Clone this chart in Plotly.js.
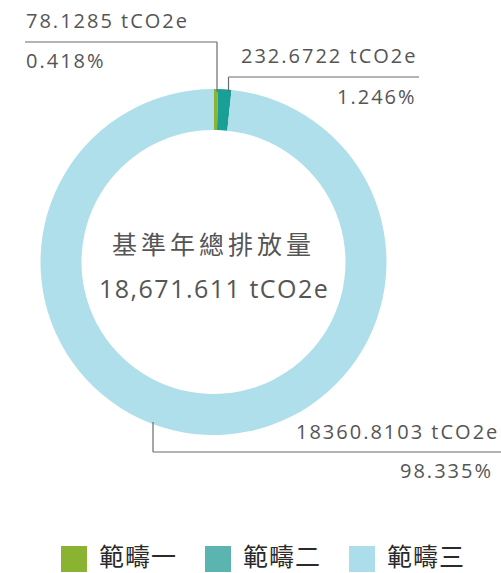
<!DOCTYPE html>
<html>
<head>
<meta charset="utf-8">
<script src="https://cdn.plot.ly/plotly-3.0.1.min.js"></script>
<style>html,body{margin:0;padding:0;background:#fff;}#chart{width:501px;height:573px;}</style>
</head>
<body>
<div id="chart"></div>
<script>
// ---- data ----
const categories = ["範疇一", "範疇二", "範疇三"];
const emissions = [78.1285, 232.6722, 18360.8103];
const valueLabels = ["78.1285 tCO2e", "232.6722 tCO2e", "18360.8103 tCO2e"];
const percentLabels = ["0.418%", "1.246%", "98.335%"];
const centerTitle = "基準年總排放量";
const centerTotal = "18,671.611 tCO2e";
const sliceColors = ["#8ab533", "#18a096", "#afdfea"];
const legendColors = ["#8ab332", "#5bb4b0", "#acddea"];

const W = 501, H = 573;
const px = x => x / W;
const py = y => 1 - y / H;

// donut geometry (pixels)
const cx = 213.5, cy = 262, R = 173;

const NUM_FONT = "'Open Sans', 'Noto Sans', sans-serif";
const CJK_FONT = "'Noto Sans CJK TC', 'Noto Sans', sans-serif";
const sp = (t, s) => `<span style="letter-spacing:${s}px">${t}</span>`;

const trace = {
  type: "pie",
  labels: categories,
  values: emissions,
  marker: {colors: sliceColors, line: {width: 0}},
  hole: 0.763,
  sort: false,
  direction: "clockwise",
  rotation: 0,
  textinfo: "none",
  hoverinfo: "label+value+percent",
  showlegend: false,
  domain: {x: [px(cx - R), px(cx + R)], y: [py(cy + R), py(cy - R)]}
};

const lineStyle = {color: "#6b6b6b", width: 1.2};
const shapes = [
  // scope 1 leader
  {type: "line", xref: "paper", yref: "paper", x0: px(217), y0: py(92), x1: px(217), y1: py(42), line: lineStyle},
  {type: "line", xref: "paper", yref: "paper", x0: px(217), y0: py(42), x1: px(25), y1: py(42), line: lineStyle},
  // scope 2 leader
  {type: "line", xref: "paper", yref: "paper", x0: px(228.5), y0: py(92), x1: px(228.5), y1: py(77), line: lineStyle},
  {type: "line", xref: "paper", yref: "paper", x0: px(228.5), y0: py(77), x1: px(419), y1: py(77), line: lineStyle},
  // scope 3 leader
  {type: "line", xref: "paper", yref: "paper", x0: px(153), y0: py(422), x1: px(153), y1: py(452), line: lineStyle},
  {type: "line", xref: "paper", yref: "paper", x0: px(153), y0: py(452), x1: px(501), y1: py(452), line: lineStyle}
];

// manual legend squares
const legendX = [61, 205, 349];
legendX.forEach((x, i) => {
  shapes.push({type: "rect", xref: "paper", yref: "paper", x0: px(x), x1: px(x + 26), y0: py(572), y1: py(546),
    fillcolor: legendColors[i], line: {width: 0}});
});

const numFont = {family: NUM_FONT, size: 20, color: "#555555"};
const annotations = [
  {text: sp(valueLabels[0], 2), x: px(24), y: py(20), xanchor: "left", yanchor: "middle"},
  {text: sp(percentLabels[0], 2), x: px(24), y: py(60), xanchor: "left", yanchor: "middle"},
  {text: sp(valueLabels[1], 2), x: px(419), y: py(56), xanchor: "right", yanchor: "middle"},
  {text: sp(percentLabels[1], 2), x: px(419), y: py(97), xanchor: "right", yanchor: "middle"},
  {text: sp(valueLabels[2], 2), x: px(501), y: py(431), xanchor: "right", yanchor: "middle"},
  {text: sp(percentLabels[2], 2), x: px(495), y: py(470), xanchor: "right", yanchor: "middle"}
].map(a => Object.assign({xref: "paper", yref: "paper", showarrow: false, font: numFont}, a));

annotations.push({xref: "paper", yref: "paper", showarrow: false, x: px(cx), y: py(243), xanchor: "center", yanchor: "middle",
  text: sp(centerTitle, 4), font: {family: CJK_FONT, size: 25, color: "#555555"}});
annotations.push({xref: "paper", yref: "paper", showarrow: false, x: px(cx), y: py(288), xanchor: "center", yanchor: "middle",
  text: sp(centerTotal, 1.5), font: {family: NUM_FONT, size: 25, color: "#555555"}});

legendX.forEach((x, i) => {
  annotations.push({xref: "paper", yref: "paper", showarrow: false, x: px(x + 36), y: py(555), xanchor: "left", yanchor: "middle",
    text: sp(categories[i], 1), font: {family: CJK_FONT, size: 25, color: "#2a2a2a"}});
});

const layout = {
  width: W, height: H,
  margin: {l: 0, r: 0, t: 0, b: 0},
  paper_bgcolor: "#ffffff",
  showlegend: false,
  shapes: shapes,
  annotations: annotations
};

Plotly.newPlot("chart", [trace], layout, {displayModeBar: false, staticPlot: true});
</script>
</body>
</html>
